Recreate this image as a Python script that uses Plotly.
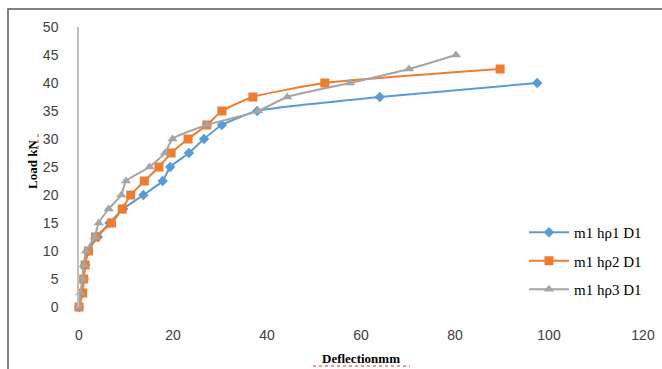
import plotly.graph_objects as go

# Data
load = [0, 2.5, 5, 7.5, 10, 12.5, 15, 17.5, 20, 22.5, 25, 27.5, 30, 32.5, 35, 37.5, 40]
defl_1 = [0, 0.6, 1.0, 1.3, 2.0, 4.0, 6.5, 9.4, 13.7, 17.8, 19.4, 23.4, 26.6, 30.4, 37.9, 64.0, 97.5]

load_2 = [0, 2.5, 5, 7.5, 10, 12.5, 15, 17.5, 20, 22.5, 25, 27.5, 30, 32.5, 35, 37.5, 40, 42.5]
defl_2 = [0, 0.8, 1.0, 1.3, 2.0, 3.5, 6.9, 9.2, 11.0, 13.9, 17.0, 19.6, 23.2, 27.2, 30.4, 37.0, 52.3, 89.6]

load_3 = [0, 2.5, 5, 7.5, 10, 12.5, 15, 17.5, 20, 22.5, 25, 27.5, 30, 32.5, 35, 37.5, 40, 42.5, 45]
defl_3 = [0, 0.3, 0.7, 1.0, 1.5, 3.3, 4.2, 6.3, 9.0, 10.0, 15.0, 18.3, 19.9, 27.2, 38.1, 44.3, 57.7, 70.2, 80.2]

names = ["m1 hρ1 D1", "m1 hρ2 D1", "m1 hρ3 D1"]
colors = ["#5B9BD5", "#ED7D31", "#A5A5A5"]
x_ticks = [0, 20, 40, 60, 80, 100, 120]
y_ticks = [0, 5, 10, 15, 20, 25, 30, 35, 40, 45, 50]

W, H = 564, 280  # plot area size in px
L, B = 79, 307   # plot area left / bottom in px


def px(x):
    return (x - L) / W


def py(y):
    return (B - y) / H


fig = go.Figure()
series = [(defl_1, load, "diamond", 8), (defl_2, load_2, "square", 9), (defl_3, load_3, "triangle-up", 9)]
for i, (xs, ys, sym, sz) in enumerate(series):
    fig.add_trace(go.Scatter(
        x=xs, y=ys, mode="lines+markers", name=names[i],
        line=dict(color=colors[i], width=2, shape="spline", smoothing=0.5),
        marker=dict(symbol=sym, size=sz, color=colors[i]),
        cliponaxis=False, legendgroup=str(i),
    ))

fig.update_layout(
    width=662, height=369,
    margin=dict(l=79, r=19, t=27, b=62, autoexpand=False),
    paper_bgcolor="white", plot_bgcolor="white",
    showlegend=True,
    legend=dict(x=px(524), y=py(216), xanchor="left", yanchor="top",
                font=dict(family="Liberation Serif", size=15, color="black"),
                bgcolor="rgba(0,0,0,0)", tracegroupgap=6, itemwidth=40),
    font=dict(family="Liberation Sans", size=13, color="#404040"),
)
fig.update_xaxes(range=[0, 120], tickvals=x_ticks, showgrid=False, zeroline=False,
                 showline=False, ticks="", ticklabelstandoff=18, automargin=False,
                 tickfont=dict(family="Liberation Sans", size=14, color="#404040"))
fig.update_yaxes(range=[0, 50], tickvals=y_ticks, showgrid=False, zeroline=False,
                 showline=True, linecolor="#BFBFBF", linewidth=1.5, ticks="",
                 ticklabelstandoff=16, automargin=False,
                 tickfont=dict(family="Liberation Sans", size=14, color="#404040"))

fig.add_annotation(text="<b>Deflectionmm</b>", xref="paper", yref="paper",
                   x=px(361), y=py(358), xanchor="center", yanchor="middle", showarrow=False,
                   font=dict(family="Liberation Serif", size=13, color="black"))
fig.add_annotation(text="<b>Load kN</b>", xref="paper", yref="paper",
                   x=px(32), y=py(165), xanchor="center", yanchor="middle", showarrow=False,
                   textangle=-90,
                   font=dict(family="Liberation Serif", size=13, color="black"))

# spell-check squiggles as in the reference
fig.add_shape(type="line", xref="paper", yref="paper",
              x0=px(313), x1=px(410), y0=py(366), y1=py(366),
              line=dict(color="#E03030", width=1, dash="dot"))
fig.add_shape(type="line", xref="paper", yref="paper",
              x0=px(38), x1=px(38), y0=py(134), y1=py(152),
              line=dict(color="#E03030", width=1, dash="dot"))

fig.add_shape(type="rect", xref="paper", yref="paper",
              x0=px(8), x1=px(668), y0=py(375), y1=py(9),
              line=dict(color="#595959", width=1.5), fillcolor="rgba(0,0,0,0)", layer="below")

fig.write_html("out.html")
